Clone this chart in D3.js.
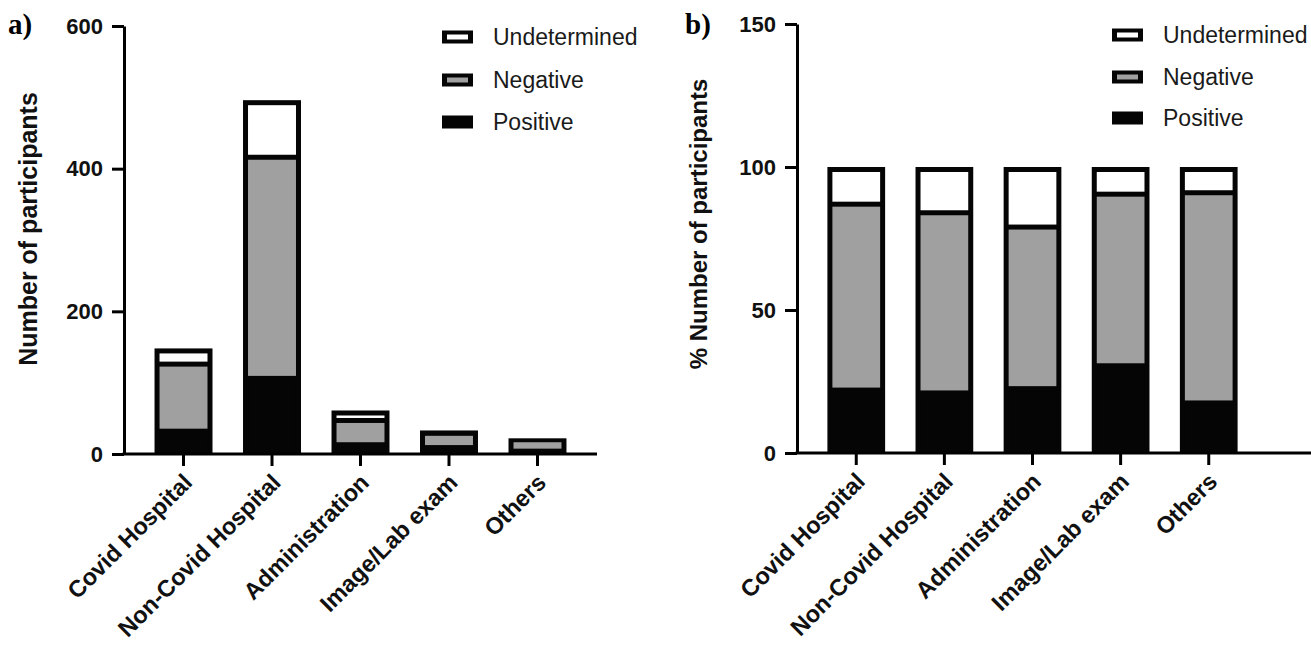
<!DOCTYPE html>
<html>
<head>
<meta charset="utf-8">
<script src="https://cdn.jsdelivr.net/npm/d3@7"></script>
<style>
  body { margin: 0; background: #fff; }
  svg { display: block; }
</style>
</head>
<body>
<div class="holder"></div>
<script>
// categories on the x axis (same in both panels)
var categories = ["Covid Hospital", "Non-Covid Hospital", "Administration", "Image/Lab exam", "Others"]
var seriesNames = ["Positive", "Negative", "Undetermined"]   // bottom -> top
var legendOrder = ["Undetermined", "Negative", "Positive"]

// panel a) number of participants
var countPositive = [32, 106, 13, 9, 4]
var countNegative = [94, 310, 34, 20, 16]
var countUndetermined = [22, 80, 14, 4, 2]
var countTicks = [0, 200, 400, 600]

// panel b) % of participants
var pctPositive = [22, 21, 22.5, 30.5, 17.5]
var pctNegative = [65, 63, 56.5, 60, 73.5]
var pctUndetermined = [13, 16, 21, 9.5, 9]
var pctTicks = [0, 50, 100, 150]

var fills = { "Positive": "#050505", "Negative": "#a0a0a0", "Undetermined": "#ffffff" }

var width = 1311,
    height = 645;

var svg = d3.select(".holder").append("svg")
    .attr("width", width)
    .attr("height", height)

function drawPanel(p) {
    var rows = categories.map(function(c, i) {
        return { cat: c, Positive: p.pos[i], Negative: p.neg[i], Undetermined: p.und[i] }
    })
    var layers = d3.stack().keys(seriesNames)(rows)

    var x = d3.scaleBand().domain(categories).range([p.x0, p.x1]).padding(0.345)
    var y = d3.scaleLinear().domain([0, p.max]).range([p.y0, p.yTop])
    var bw = x.bandwidth()

    var g = svg.append("g")

    // black body of every bar -> gives the thick outlines
    g.selectAll("rect.body")
        .data(rows).enter()
        .append("rect")
        .attr("class", "body")
        .attr("x", d => x(d.cat))
        .attr("y", d => y(d.Positive + d.Negative + d.Undetermined))
        .attr("width", bw)
        .attr("height", d => y(0) - y(d.Positive + d.Negative + d.Undetermined))
        .style("fill", "#050505")

    // coloured inside of each segment
    layers.forEach(function(layer, li) {
        var isTop = li == layers.length - 1
        g.selectAll("rect.seg" + li)
            .data(layer).enter()
            .append("rect")
            .attr("x", d => x(d.data.cat) + 5)
            .attr("y", d => y(d[1]) + (isTop ? 5 : 2.5))
            .attr("width", bw - 10)
            .attr("height", function(d) {
                var h = (y(d[0]) - 2.5) - (y(d[1]) + (isTop ? 5 : 2.5))
                return Math.max(h, 0)
            })
            .style("fill", fills[layer.key])
    })

    // y axis
    var yAxis = g.append("g")
        .attr("transform", "translate(" + p.x0 + ",0)")
        .call(d3.axisLeft(y).tickValues(p.ticks).tickSize(12).tickPadding(9).tickSizeOuter(0))
    yAxis.select(".domain").attr("stroke", "#000").attr("stroke-width", 3)
    yAxis.selectAll(".tick line").attr("stroke", "#000").attr("stroke-width", 3)
    yAxis.selectAll(".tick text")
        .style("font-family", "'Liberation Sans', Arial, sans-serif")
        .style("font-weight", "bold")
        .style("font-size", "22px")
        .style("fill", "#111")

    // x axis
    var xAxis = g.append("g")
        .attr("transform", "translate(0," + p.y0 + ")")
        .call(d3.axisBottom(x).tickSize(12).tickSizeOuter(0))
    xAxis.select(".domain").remove()
    xAxis.append("line")
        .attr("x1", p.x0 - 1.5).attr("x2", p.xEnd)
        .attr("stroke", "#000").attr("stroke-width", 3)
    xAxis.selectAll(".tick line").attr("stroke", "#000").attr("stroke-width", 3)
    xAxis.selectAll(".tick text")
        .attr("x", 0).attr("y", 0).attr("dy", 0)
        .attr("transform", "translate(10,30) rotate(-45)")
        .style("text-anchor", "end")
        .style("font-family", "'Liberation Sans', Arial, sans-serif")
        .style("font-weight", "bold")
        .style("font-size", "23.5px")
        .style("fill", "#111")

    // axis title
    g.append("text")
        .attr("transform", "translate(" + p.titleX + "," + p.titleY + ") rotate(-90)")
        .attr("text-anchor", "middle")
        .style("font-family", "'Liberation Sans', Arial, sans-serif")
        .style("font-weight", "bold")
        .style("font-size", p.titleSize)
        .style("fill", "#111")
        .text(p.title)

    // panel letter
    g.append("text")
        .attr("x", p.labelX)
        .attr("y", 34)
        .style("font-family", "'Liberation Serif', 'Times New Roman', serif")
        .style("font-weight", "bold")
        .style("font-size", "29px")
        .text(p.label)

    // legend
    var leg = g.selectAll("g.legend")
        .data(legendOrder).enter()
        .append("g")
        .attr("transform", (d, i) => "translate(" + p.legX + "," + p.legY[i] + ")")
    leg.append("rect")
        .attr("x", 0).attr("y", -6.5)
        .attr("width", 31).attr("height", 13)
        .style("fill", "#050505")
    leg.append("rect")
        .attr("x", 5).attr("y", -2.5)
        .attr("width", 21).attr("height", 5)
        .style("fill", d => fills[d])
    leg.append("text")
        .attr("x", 51).attr("y", 8)
        .style("font-family", "'Liberation Sans', Arial, sans-serif")
        .style("font-size", "23px")
        .style("fill", "#1a1a1a")
        .text(d => d)
}

drawPanel({
    pos: countPositive, neg: countNegative, und: countUndetermined,
    ticks: countTicks, max: 600,
    x0: 124, x1: 597, xEnd: 597, y0: 454, yTop: 26,
    title: "Number of participants", titleX: 37, titleY: 229, titleSize: "25px",
    label: "a)", labelX: 8,
    legX: 442, legY: [37, 80, 122]
})

drawPanel({
    pos: pctPositive, neg: pctNegative, und: pctUndetermined,
    ticks: pctTicks, max: 150,
    x0: 797, x1: 1268, xEnd: 1311, y0: 453, yTop: 24,
    title: "% Number of participants", titleX: 707, titleY: 224, titleSize: "24px",
    label: "b)", labelX: 685,
    legX: 1112, legY: [35, 77, 118]
})
</script>
</body>
</html>
